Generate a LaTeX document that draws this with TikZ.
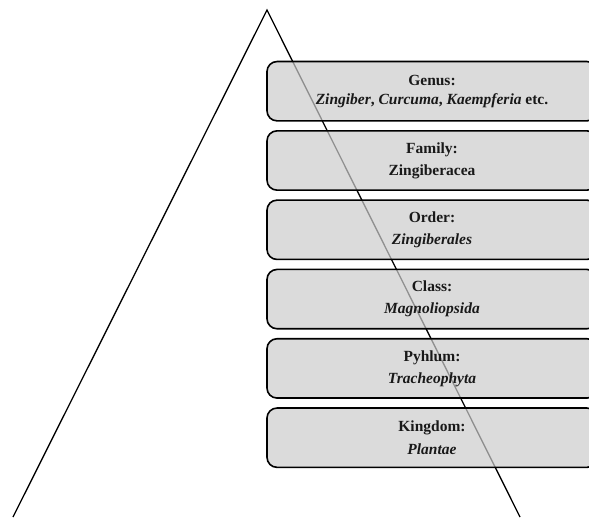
\documentclass[tikz,border=0pt]{standalone}
\usepackage{fontspec}
\setmainfont{Liberation Serif}
\usetikzlibrary{positioning}
\tikzset{
    taxonnode/.style = {draw, rectangle, rounded corners=10pt, line width=1.6pt, fill=black!20,
      fill opacity=0.7, draw opacity=1, text opacity=1, minimum width=330pt, minimum height=59.3pt,
      inner sep=0pt, node distance=8.4pt, align=center, text=black!90,
      font=\fontsize{15.5}{18.7}\selectfont\bfseries},
    legline/.style = {black, line width=1.3pt}
}

\begin{document}
\begin{tikzpicture}[x=1pt, y=1pt]
    \clip (0,0) rectangle (589,517);
    \coordinate (Apex) at (267,507);
    \coordinate (LeftFoot) at (13,0);
    \coordinate (RightFoot) at (520,0);
    \draw[legline] (LeftFoot) -- (Apex) -- (RightFoot);

    \node [taxonnode, name=Genus] at (432,425.8) {Genus:\\ \textit{Zingiber}, \textit{Curcuma}, \textit{Kaempferia} etc.};
    \node [taxonnode, name=Family, below=of Genus] {Family:\\[3.5pt] Zingiberacea};
    \node [taxonnode, name=Order, below=of Family] {Order:\\[3.5pt] \textit{Zingiberales}};
    \node [taxonnode, name=Class, below=of Order] {Class:\\[3.5pt] \textit{Magnoliopsida}};
    \node [taxonnode, name=Pyhlum, below=of Class] {Pyhlum:\\[3.5pt] \textit{Tracheophyta}};
    \node [taxonnode, name=Kingdom, below=of Pyhlum] {Kingdom:\\[3.5pt] \textit{Plantae}};
\end{tikzpicture}
\end{document}
